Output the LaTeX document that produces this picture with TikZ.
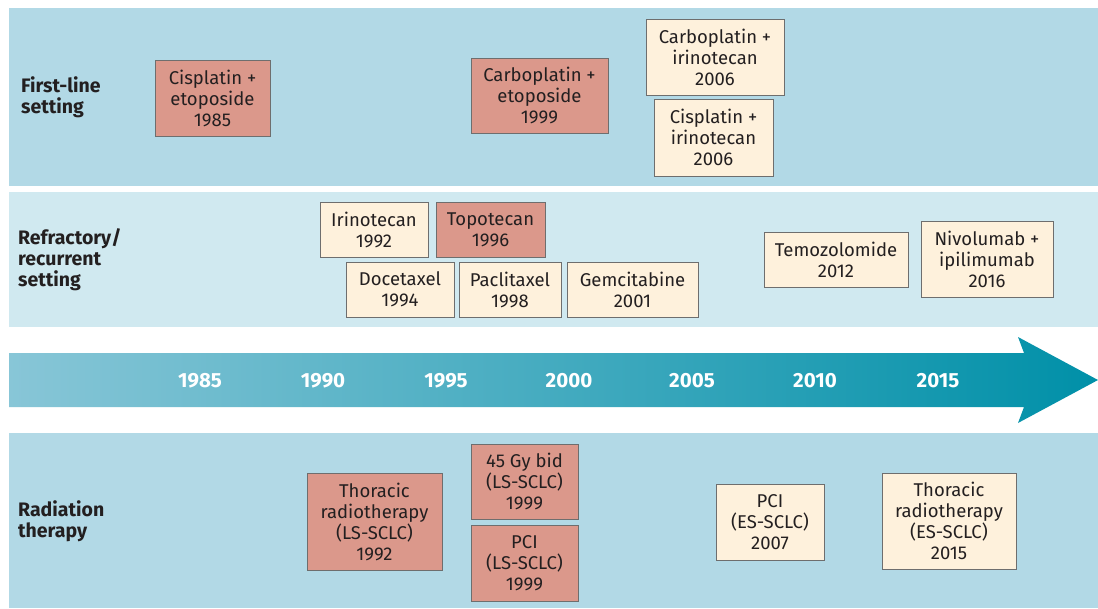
\documentclass[tikz,border=0pt]{standalone}
\usepackage{fontspec}
\setmainfont{Fira Sans}
\definecolor{banddark}{HTML}{B2D9E6}
\definecolor{bandlight}{HTML}{D0E9F0}
\definecolor{salmon}{HTML}{DB988B}
\definecolor{creamc}{HTML}{FEF1DC}
\definecolor{bordergray}{HTML}{6E6E6E}
\definecolor{textc}{HTML}{231F20}
\definecolor{arrowL}{HTML}{88C6D7}
\definecolor{arrowM}{HTML}{12A7C2}
\definecolor{arrowR}{HTML}{0090A8}
\tikzset{
  box/.style={draw=bordergray, line width=0.8pt, inner sep=0pt, align=center,
    text=textc, font=\fontsize{18.5}{21}\selectfont},
  redbox/.style={box, fill=salmon},
  creambox/.style={box, fill=creamc},
  rowlabel/.style={anchor=west, align=left, inner sep=0pt, text=textc,
    font=\fontsize{19.5}{21}\selectfont\bfseries},
  yearlabel/.style={text=white, inner sep=0pt, font=\fontsize{20.5}{21}\selectfont\bfseries}
}
\begin{document}
\begin{tikzpicture}[x=1pt,y=-1pt]
\useasboundingbox (0,0) rectangle (1098,608);
\fill[white] (0,0) rectangle (1098,608);
% bands
\fill[banddark] (9,8) rectangle (1098,186);
\fill[bandlight] (9,192) rectangle (1098,327);
\fill[banddark] (9,433) rectangle (1098,608);
% timeline arrow
\shade[left color=arrowL, middle color=arrowM, right color=arrowR]
  (9,353) -- (1024,353) -- (1018,337) -- (1098,380) -- (1018,423) -- (1024,407) -- (9,407) -- cycle;
\node[yearlabel] (y1985) at (200,381) {1985};
\node[yearlabel] (y1990) at (323,381) {1990};
\node[yearlabel] (y1995) at (446,381) {1995};
\node[yearlabel] (y2000) at (569,381) {2000};
\node[yearlabel] (y2005) at (692,381) {2005};
\node[yearlabel] (y2010) at (815,381) {2010};
\node[yearlabel] (y2015) at (938,381) {2015};
% row labels
\node[rowlabel] (lfirst) at (21,97.5) {First-line\\setting};
\node[rowlabel] (lrefr) at (18,260) {Refractory/\\recurrent\\setting};
\node[rowlabel] (lrad) at (18,521.5) {Radiation\\therapy};
% first-line
\node[redbox, minimum width=115, minimum height=76] (cisEto) at (212.5,98) {Cisplatin +\\etoposide\\1985};
\node[redbox, minimum width=137, minimum height=75] (carEto) at (539.5,95.5) {Carboplatin +\\etoposide\\1999};
\node[creambox, minimum width=138, minimum height=76] (carIri) at (715,57) {Carboplatin +\\irinotecan\\2006};
\node[creambox, minimum width=119, minimum height=77] (cisIri) at (713.5,137.5) {Cisplatin +\\irinotecan\\2006};
% refractory / recurrent
\node[creambox, minimum width=108, minimum height=55] (irino) at (374,229.5) {Irinotecan\\1992};
\node[redbox, minimum width=109, minimum height=55] (topo) at (490.5,229.5) {Topotecan\\1996};
\node[creambox, minimum width=108, minimum height=55] (doce) at (400,289.5) {Docetaxel\\1994};
\node[creambox, minimum width=102, minimum height=55] (pacli) at (510,289.5) {Paclitaxel\\1998};
\node[creambox, minimum width=131, minimum height=55] (gem) at (632.5,289.5) {Gemcitabine\\2001};
\node[creambox, minimum width=144, minimum height=55] (temo) at (836,259.5) {Temozolomide\\2012};
\node[creambox, minimum width=132, minimum height=76] (nivo) at (987,259) {Nivolumab +\\ipilimumab\\2016};
% radiation
\node[redbox, minimum width=135, minimum height=97] (thorLS) at (374.5,521.5) {Thoracic\\radiotherapy\\(LS-SCLC)\\1992};
\node[redbox, minimum width=107, minimum height=75] (gybid) at (524.5,481.5) {45 Gy bid\\(LS-SCLC)\\1999};
\node[redbox, minimum width=107, minimum height=76] (pciLS) at (524.5,563) {PCI\\(LS-SCLC)\\1999};
\node[creambox, minimum width=108, minimum height=76] (pciES) at (770,522) {PCI\\(ES-SCLC)\\2007};
\node[creambox, minimum width=134, minimum height=96] (thorES) at (949,521) {Thoracic\\radiotherapy\\(ES-SCLC)\\2015};
\end{tikzpicture}
\end{document}
